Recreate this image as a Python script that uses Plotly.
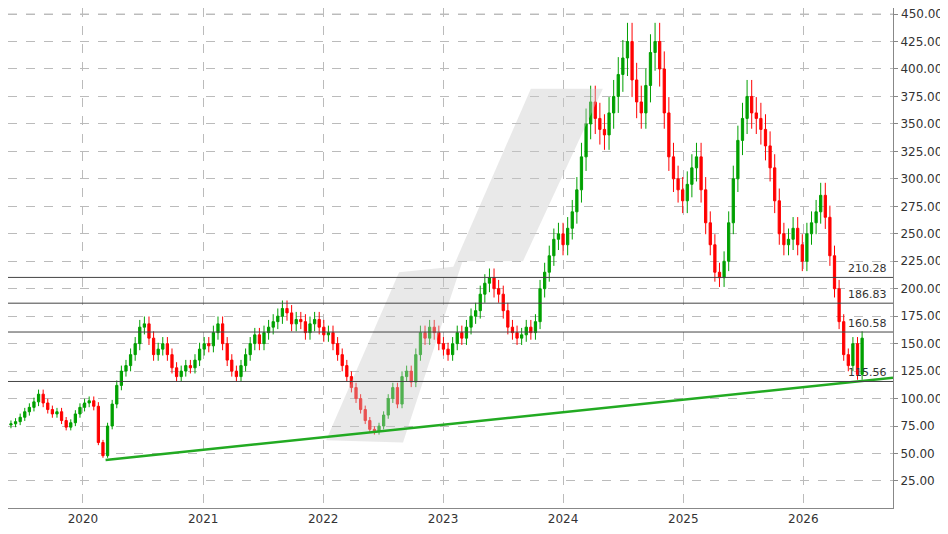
import numpy as np
import pandas as pd
import plotly.graph_objects as go

# biweekly closes, May 2019 .. Jul 2026
closes_2019 = [76, 77, 79, 83, 88, 92, 97, 104, 96, 90, 86, 88, 80, 74, 78, 86, 92, 96]
closes_2020 = [98, 93, 60, 48, 75, 95, 112, 125, 130, 140, 150, 165, 168, 155, 140, 145,
               150, 140, 128, 120, 125, 130, 128, 135, 145, 150]
closes_2021 = [148, 160, 168, 150, 135, 125, 120, 130, 140, 150, 158, 150, 160, 165, 170,
               175, 182, 178, 168, 172, 170, 160, 168, 172, 165, 158]
closes_2022 = [160, 150, 140, 130, 120, 110, 100, 90, 80, 72, 70, 75, 85, 100, 110, 95,
               120, 125, 115, 140, 160, 155, 165, 160, 150, 145]
closes_2023 = [140, 150, 160, 155, 165, 175, 180, 195, 205, 210, 200, 195, 180, 165, 160,
               155, 158, 165, 160, 170, 200, 215, 230, 245, 250, 240]
closes_2024 = [255, 270, 290, 320, 350, 370, 355, 345, 340, 360, 375, 395, 410, 425, 390,
               370, 360, 385, 415, 425, 400, 360, 320, 300, 290, 280]
closes_2025 = [295, 310, 320, 290, 260, 240, 215, 210, 225, 260, 300, 335, 355, 375, 360,
               355, 345, 330, 310, 280, 250, 240, 245, 255, 240, 225]
closes_2026 = [250, 260, 270, 285, 265, 230, 200, 170, 140, 130, 150, 122, 155]

closes = (closes_2019 + closes_2020 + closes_2021 + closes_2022 + closes_2023
          + closes_2024 + closes_2025 + closes_2026)
dates = pd.date_range("2019-05-13", periods=len(closes), freq="14D")
opens = [closes[0]] + closes[:-1]
highs = [max(o, c) * 1.04 for o, c in zip(opens, closes)]
lows = [min(o, c) * 0.96 for o, c in zip(opens, closes)]

levels = [210.28, 186.83, 160.58, 115.56]
trend_x = ["2020-03-10", "2026-10-01"]
trend_y = [44, 119]
band_x = ["2022-01-10", "2022-08-20", "2023-02-01", "2023-09-25", "2024-05-01",
          "2023-09-01", "2023-03-01", "2022-09-01"]
band_y = [62, 215, 220, 382, 382, 225, 225, 60]
y_ticks = list(range(25, 451, 25))

fig = go.Figure()
fig.add_trace(go.Scatter(x=band_x + [band_x[0]], y=band_y + [band_y[0]], fill="toself",
                         mode="lines", fillcolor="rgba(200,200,200,0.4)", line=dict(width=0),
                         hoverinfo="skip", showlegend=False))
for lv in levels:
    fig.add_hline(y=lv, line=dict(color="#444", width=1))
    fig.add_annotation(x=0.995, xref="paper", y=lv, yanchor="bottom", xanchor="right",
                       text=f"{lv:.2f}", showarrow=False, font=dict(size=11, color="#333"))
# top tick label sits too close to the page edge for plotly's own tick, so draw it
fig.add_hline(y=y_ticks[-1], line=dict(color="#bbb", width=1, dash="dash"))
fig.add_annotation(x=1, xref="paper", y=y_ticks[-1], xanchor="left", xshift=6,
                   text=f"{y_ticks[-1]:.2f}", showarrow=False, font=dict(size=12, color="#333"))
fig.add_trace(go.Scatter(x=trend_x, y=trend_y, mode="lines",
                         line=dict(color="#22aa22", width=2.5), showlegend=False))
fig.add_trace(go.Candlestick(x=dates, open=opens, high=highs, low=lows, close=closes,
                             increasing=dict(line=dict(color="#00a000", width=1), fillcolor="#00a000"),
                             decreasing=dict(line=dict(color="#ff0000", width=1), fillcolor="#ff0000"),
                             showlegend=False))

fig.update_layout(width=948, height=534, margin=dict(l=0, r=63, t=0, b=34),
                  paper_bgcolor="white", plot_bgcolor="white",
                  font=dict(family="DejaVu Sans", size=12, color="#333"))
fig.update_xaxes(range=["2019-05-18", "2026-10-01"], autorange=False, rangeslider_visible=False,
                 showgrid=True, gridcolor="#bbb", griddash="dash", dtick="M12",
                 tickformat="%Y", showline=True, linecolor="#888", mirror=True, ticks="")
fig.update_yaxes(side="right", range=[0.4, 455.5], autorange=False, tickvals=y_ticks,
                 tickformat=".2f", showgrid=True, gridcolor="#bbb", griddash="dash",
                 showline=True, linecolor="#888", mirror=True, ticks="outside",
                 ticklen=4, tickcolor="#888", zeroline=False)
fig.write_html("out.html")
